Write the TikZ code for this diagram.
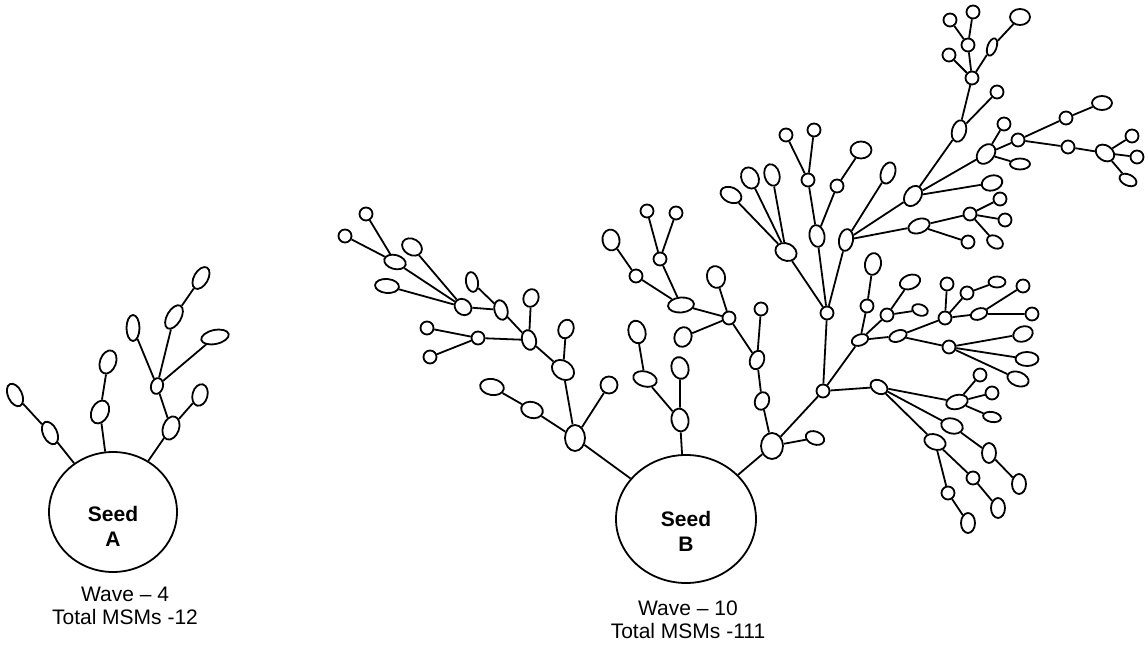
\documentclass[tikz,border=0pt]{standalone}
\usepackage{fontspec}
\setmainfont{Liberation Sans}
\usetikzlibrary{shapes.geometric}

\begin{document}
\begin{tikzpicture}[x=0.5pt,y=-0.5pt,line width=0.9pt,
  msm/.style n args={3}{draw,ellipse,inner sep=0pt,minimum width=#1*0.5pt,minimum height=#2*0.5pt,rotate=#3},
  dot/.style={draw,circle,inner sep=0pt,minimum size=6.5pt},
  seed/.style={draw,ellipse,inner sep=0pt},
  seedtag/.style={font=\fontsize{10.5}{12.5}\selectfont\bfseries,align=center},
  tag/.style={font=\fontsize{10.5}{11.5}\selectfont,align=center}]
  \useasboundingbox (0,0) rectangle (1147,646);

  % seed A
  \node[seed,minimum width=64pt,minimum height=60pt,
        label={[seedtag,yshift=-7pt]center:Seed\\A}] (seedA) at (113,512) {};
  \node[tag] (capA) at (125,606) {Wave – 4\\Total MSMs -12};
  \node[msm={14}{24}{25}] (a1) at (50,433) {};
  \node[msm={14}{24}{25}] (a2) at (15,395) {};
  \node[msm={17}{24}{-25}] (a3) at (100,412) {};
  \node[msm={16}{24}{-20}] (a4) at (108,362) {};
  \node[msm={16}{24}{-20}] (a5) at (171,428) {};
  \node[msm={15}{22}{-15}] (a6) at (200,395) {};
  \node[msm={12}{16}{-15}] (a7) at (157,386) {};
  \node[msm={13}{26}{0}] (a8) at (133,328) {};
  \node[msm={14}{26}{-30}] (a9) at (174,317) {};
  \node[msm={28}{14}{12}] (a10) at (215,337) {};
  \node[msm={14}{24}{-30}] (a11) at (201,278) {};

  % seed B
  \node[seed,minimum width=70pt,minimum height=64pt,
        label={[seedtag,yshift=-6pt]center:Seed\\B}] (seedB) at (686,519) {};
  \node[tag] (capB) at (688,620) {Wave – 10\\Total MSMs -111};

  % left branch
  \node[msm={20}{26}{0}] (b1) at (575,438) {};
  \node[msm={17}{17}{0}] (b2) at (609,385) {};
  \node[msm={22}{16}{-15}] (b3) at (532,410) {};
  \node[msm={24}{16}{-10}] (b4) at (492,387) {};
  \node[msm={24}{18}{-35}] (b5) at (563,370) {};
  \node[msm={15}{19}{-20}] (b6) at (566,329) {};
  \node[msm={14}{20}{15}] (b7) at (529,340) {};
  \node[msm={15}{18}{-20}] (b8) at (531,298) {};
  \node[dot] (b9) at (478,338) {};
  \node[dot] (b10) at (427,328) {};
  \node[dot] (b11) at (430,357) {};
  \node[msm={13}{20}{15}] (b12) at (501,310) {};
  \node[msm={12}{20}{10}] (b13) at (472,282) {};
  \node[msm={18}{15}{-40}] (b14) at (463,307) {};
  \node[msm={24}{14}{-5}] (b15) at (387,286) {};
  \node[msm={21}{16}{-30}] (b16) at (412,247) {};
  \node[msm={22}{14}{-15}] (b17) at (395,262) {};
  \node[dot] (b18) at (345,236) {};
  \node[dot] (b19) at (366,214) {};

  % middle branch
  \node[msm={17}{23}{10}] (m1) at (680,420) {};
  \node[msm={24}{15}{-15}] (m2) at (645,379) {};
  \node[msm={17}{23}{15}] (m3) at (637,332) {};
  \node[msm={17}{22}{15}] (m4) at (680,368) {};

  % right branch
  \node[msm={22}{26}{0}] (r1) at (772,446) {};
  \node[msm={19}{13}{-20}] (r2) at (815,438) {};
  \node[msm={14}{18}{-20}] (r3) at (762,401) {};
  \node[msm={14}{19}{-20}] (r4) at (757,360) {};
  \node[dot] (r5) at (761,309) {};
  \node[dot] (r6) at (729,318) {};
  \node[msm={17}{20}{-20}] (r7) at (683,337) {};
  \node[msm={18}{22}{15}] (r8) at (716,277) {};
  \node[msm={26}{15}{5}] (r9) at (681,305) {};
  \node[dot] (r10) at (636,276) {};
  \node[msm={17}{21}{10}] (r11) at (611,240) {};
  \node[dot] (r12) at (660,259) {};
  \node[dot] (r13) at (647,211) {};
  \node[dot] (r14) at (676,213) {};

  % upper branch
  \node[dot] (s1) at (823,391) {};
  \node[dot] (s2) at (827,313) {};
  \node[msm={22}{17}{-25}] (s3) at (786,252) {};
  \node[msm={22}{15}{-25}] (s4) at (731,195) {};
  \node[msm={17}{22}{25}] (s5) at (750,178) {};
  \node[msm={15}{22}{15}] (s6) at (772,175) {};
  \node[msm={15}{22}{10}] (s7) at (817,236) {};
  \node[dot] (s8) at (808,180) {};
  \node[dot] (s9) at (786,135) {};
  \node[dot] (s10) at (814,130) {};
  \node[dot] (s11) at (837,186) {};
  \node[msm={21}{17}{0}] (s12) at (861,150) {};
  \node[msm={14}{22}{-10}] (s13) at (846,240) {};
  \node[msm={14}{22}{-20}] (s14) at (888,173) {};
  \node[msm={16}{22}{-35}] (s15) at (913,196) {};
  \node[msm={22}{14}{20}] (s16) at (919,226) {};
  \node[msm={14}{22}{-15}] (s17) at (959,131) {};
  \node[dot] (s18) at (997,92) {};
  \node[dot] (s19) at (972,78) {};
  \node[dot] (s20) at (949,55) {};
  \node[dot] (s21) at (968,45) {};
  \node[dot] (s22) at (950,20) {};
  \node[dot] (s23) at (973,12) {};
  \node[msm={9}{18}{-20}] (s24) at (992,47) {};
  \node[msm={20}{16}{0}] (s25) at (1020,17) {};
  \node[msm={16}{22}{-40}] (s26) at (986,154) {};
  \node[dot] (s27) at (1004,124) {};
  \node[dot] (s28) at (1018,140) {};
  \node[msm={20}{11}{0}] (s29) at (1020,164) {};
  \node[dot] (s30) at (1066,118) {};
  \node[msm={20}{14}{0}] (s31) at (1102,103) {};
  \node[dot] (s32) at (1068,147) {};
  \node[msm={20}{15}{-35}] (s33) at (1105,153) {};
  \node[dot] (s34) at (1132,136) {};
  \node[dot] (s35) at (1137,157) {};
  \node[msm={18}{11}{-25}] (s36) at (1128,180) {};
  \node[msm={21}{15}{15}] (s37) at (992,183) {};
  \node[dot] (s38) at (970,214) {};
  \node[dot] (s39) at (1000,199) {};
  \node[dot] (s40) at (1005,220) {};
  \node[msm={17}{12}{-30}] (s41) at (995,242) {};
  \node[dot] (s42) at (968,242) {};

  % fan to the right
  \node[msm={17}{11}{20}] (t1) at (860,340) {};
  \node[dot] (t2) at (867,306) {};
  \node[msm={16}{22}{-10}] (t3) at (873,264) {};
  \node[dot] (t4) at (887,315) {};
  \node[msm={21}{14}{20}] (t5) at (910,282) {};
  \node[msm={16}{11}{-20}] (t6) at (920,310) {};
  \node[msm={18}{11}{20}] (t7) at (898,336) {};
  \node[dot] (t8) at (945,318) {};
  \node[dot] (t9) at (947,284) {};
  \node[dot] (t10) at (967,293) {};
  \node[msm={17}{11}{0}] (t11) at (997,282) {};
  \node[msm={17}{11}{20}] (t12) at (979,314) {};
  \node[dot] (t13) at (1023,286) {};
  \node[dot] (t14) at (1032,314) {};
  \node[dot] (t15) at (949,347) {};
  \node[msm={20}{15}{20}] (t16) at (1023,334) {};
  \node[msm={23}{14}{0}] (t17) at (1027,359) {};
  \node[msm={22}{14}{-20}] (t18) at (1018,379) {};

  % fan downwards
  \node[msm={18}{13}{-30}] (u1) at (879,387) {};
  \node[msm={22}{14}{15}] (u2) at (957,402) {};
  \node[dot] (u3) at (980,375) {};
  \node[dot] (u4) at (992,393) {};
  \node[msm={18}{10}{-10}] (u5) at (992,417) {};
  \node[msm={22}{15}{-15}] (u6) at (952,426) {};
  \node[msm={14}{20}{0}] (u7) at (989,453) {};
  \node[msm={14}{20}{0}] (u8) at (1019,484) {};
  \node[msm={22}{15}{-20}] (u9) at (935,442) {};
  \node[dot] (u10) at (973,478) {};
  \node[msm={14}{20}{0}] (u11) at (998,508) {};
  \node[dot] (u12) at (948,493) {};
  \node[msm={14}{20}{0}] (u13) at (968,523) {};

  \foreach \p/\c in {seedA/a1,a1/a2,seedA/a3,a3/a4,seedA/a5,a5/a6,a5/a7,a7/a8,a7/a9,a9/a11,a7/a10,
      seedB/b1,b1/b2,b1/b3,b3/b4,b1/b5,b5/b6,b5/b7,b7/b8,b7/b9,b9/b10,b9/b11,b7/b12,b12/b13,
      b12/b14,b14/b15,b14/b16,b14/b17,b17/b18,b17/b19,
      seedB/m1,m1/m2,m2/m3,m1/m4,
      seedB/r1,r1/r2,r1/r3,r3/r4,r4/r5,r4/r6,r6/r7,r6/r8,r6/r9,r9/r10,r10/r11,r9/r12,r12/r13,r12/r14,
      r1/s1,s1/s2,s2/s3,s3/s4,s3/s5,s3/s6,s2/s7,s7/s8,s8/s9,s8/s10,s7/s11,s11/s12,
      s2/s13,s13/s14,s13/s15,s13/s16,s15/s17,s17/s18,s17/s19,s19/s20,s19/s21,s21/s22,s21/s23,
      s19/s24,s24/s25,s15/s26,s26/s27,s26/s28,s26/s29,s28/s30,s30/s31,s28/s32,s32/s33,
      s33/s34,s33/s35,s33/s36,s15/s37,s16/s38,s16/s42,s38/s39,s38/s40,s38/s41,
      s1/t1,t1/t2,t2/t3,t1/t4,t4/t5,t4/t6,t1/t7,t7/t8,t8/t9,t8/t10,t10/t11,t8/t12,t12/t13,
      t12/t14,t7/t15,t15/t16,t15/t17,t15/t18,
      s1/u1,u1/u2,u2/u3,u2/u4,u2/u5,u1/u6,u6/u7,u7/u8,u1/u9,u9/u10,u10/u11,u9/u12,u12/u13}
    \draw (\p) -- (\c);
\end{tikzpicture}
\end{document}
